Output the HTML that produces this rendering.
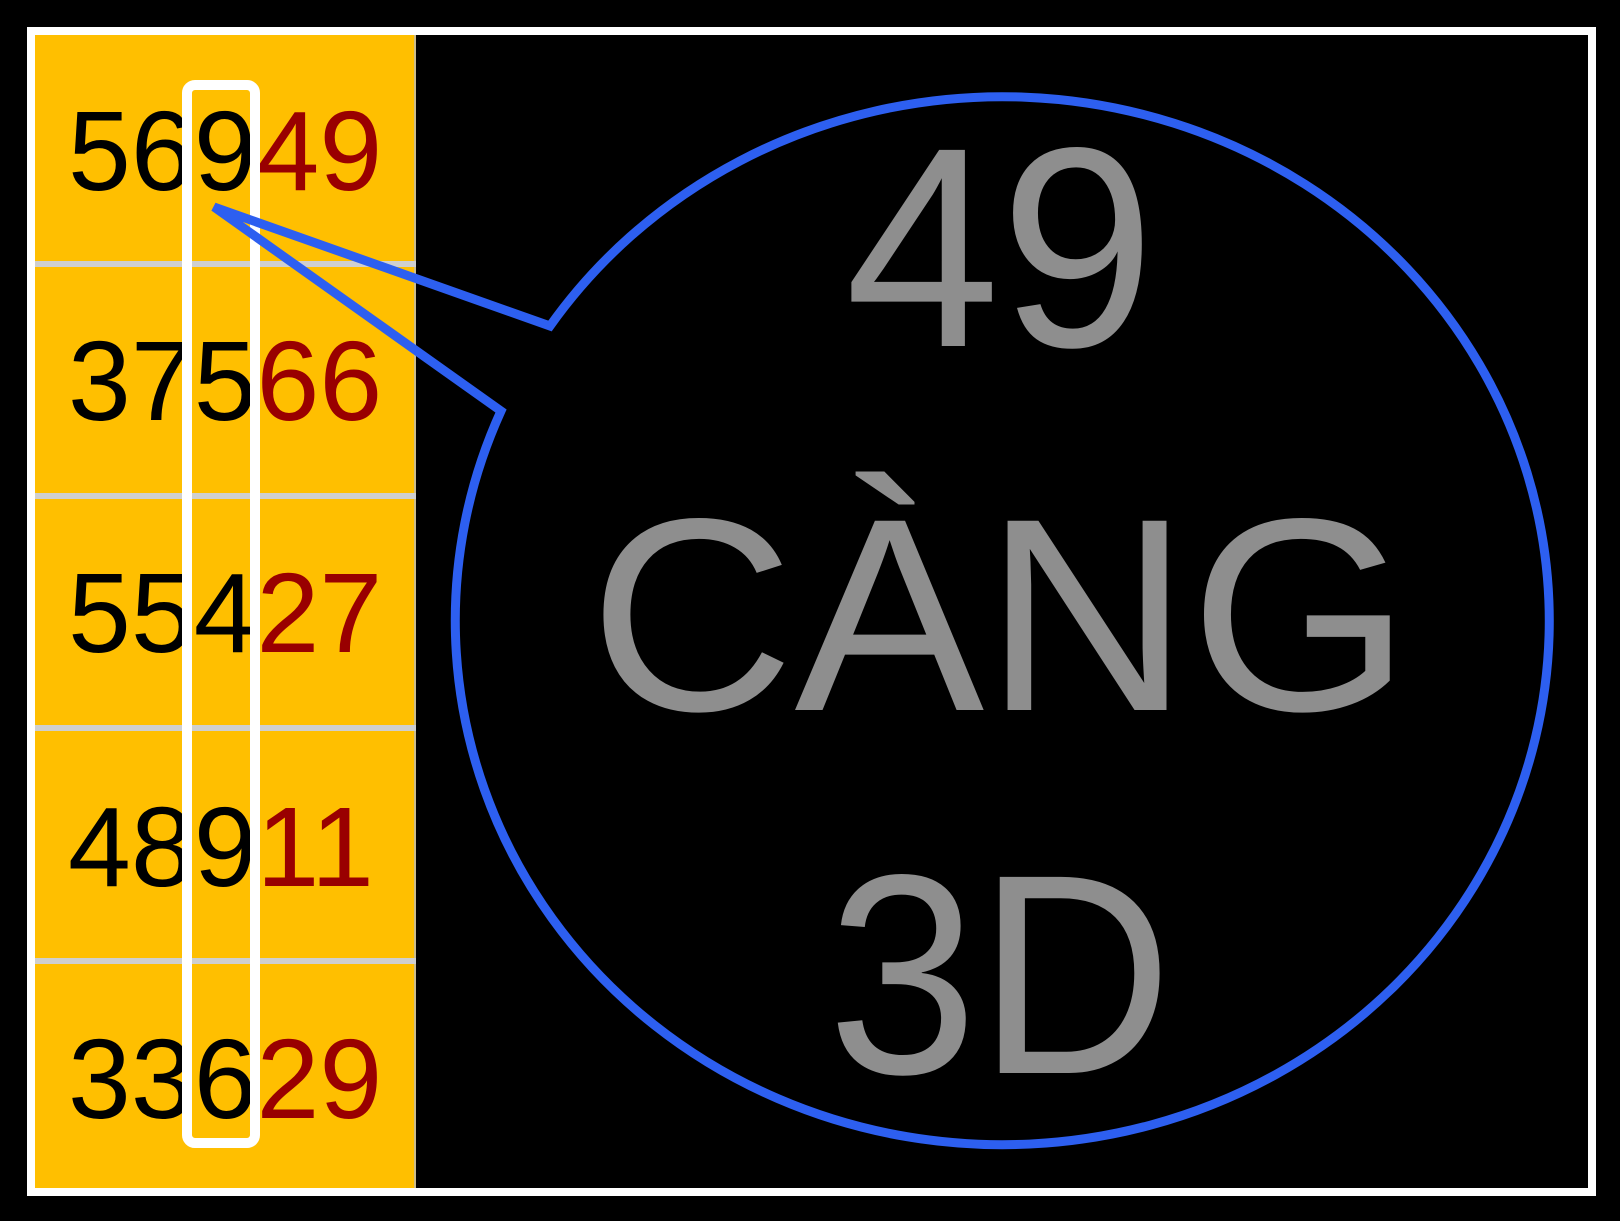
<!DOCTYPE html>
<html><head><meta charset="utf-8"><style>
html,body{margin:0;padding:0;background:#000;width:1620px;height:1221px;overflow:hidden}
</style></head><body>
<svg width="1620" height="1221" viewBox="0 0 1620 1221" xmlns="http://www.w3.org/2000/svg">
<rect width="1620" height="1221" fill="#000"/>
<rect x="31" y="31" width="1561" height="1161" fill="none" stroke="#fff" stroke-width="8"/>
<rect x="35" y="35" width="381" height="1153" fill="#ffbf00"/>
<line x1="415" y1="35" x2="415" y2="1188" stroke="#bbb" stroke-width="1.5"/>
<g fill="#cfcfcf">
<rect x="35" y="261" width="381" height="6"/>
<rect x="35" y="493" width="381" height="6"/>
<rect x="35" y="725" width="381" height="6"/>
<rect x="35" y="958" width="381" height="6"/>
</g>
<g font-family="Liberation Sans, sans-serif" font-size="113" fill="#000">
<text x="68" y="190">569<tspan fill="#990000">49</tspan></text>
<text x="68" y="420">375<tspan fill="#990000">66</tspan></text>
<text x="68" y="652">554<tspan fill="#990000">27</tspan></text>
<text x="68" y="886">489<tspan fill="#990000">11</tspan></text>
<text x="68" y="1118">336<tspan fill="#990000">29</tspan></text>
</g>
<rect x="187" y="85" width="68" height="1058" rx="8" fill="none" stroke="#fff" stroke-width="10"/>
<path d="M550 326 L214 207 L501 411 A547 524 0 1 0 550 326 Z" fill="none" stroke="#2d5ff0" stroke-width="9" stroke-linejoin="miter"/>
<g font-family="Liberation Sans, sans-serif" fill="#8e8e8e" text-anchor="middle">
<text x="1000" y="346" font-size="285" textLength="310" lengthAdjust="spacingAndGlyphs">49</text>
<text x="1000" y="710" font-size="275" textLength="822" lengthAdjust="spacingAndGlyphs">CÀNG</text>
<text x="1000" y="1073" font-size="285" textLength="345" lengthAdjust="spacingAndGlyphs">3D</text>
</g>
</svg>
</body></html>
